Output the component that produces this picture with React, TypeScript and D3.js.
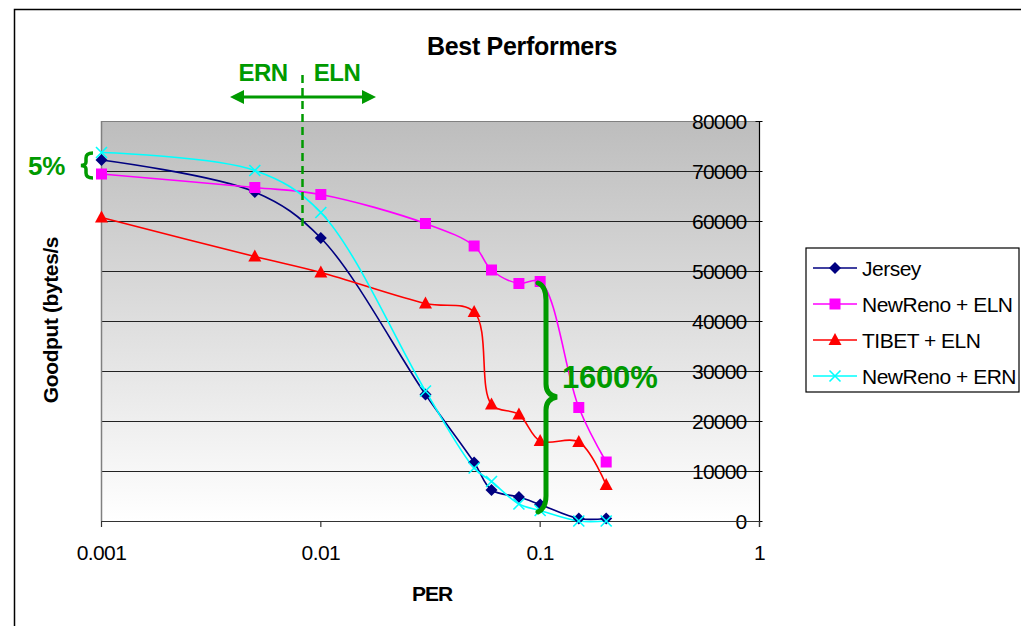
import React from "react";
import * as d3 from "d3";

const perValues = [0.001, 0.005, 0.01, 0.03, 0.05, 0.06, 0.08, 0.1, 0.15, 0.2];
const jersey = [72200, 65800, 56600, 25300, 11700, 6200, 4800, 3300, 500, 500];
const newRenoEln = [69400, 66700, 65300, 59500, 55000, 50200, 47500, 47900, 22700, 11800];
const tibetEln = [60700, 52900, 49700, 43500, 41800, 23300, 21300, 16000, 15800, 7200];
const newRenoErn = [73700, 70100, 61700, 26000, 10600, 7900, 3400, 2100, 0, 0];
const yTicks = [0, 10000, 20000, 30000, 40000, 50000, 60000, 70000, 80000];
const xTicks = [0.001, 0.01, 0.1, 1];
const xTickLabels = ["0.001", "0.01", "0.1", "1"];

const seriesNames = ["Jersey", "NewReno + ELN", "TIBET + ELN", "NewReno + ERN"];
const seriesColors = ["#000080", "#ff00ff", "#ff0000", "#00ffff"];
const seriesMarkers = ["diamond", "square", "triangle", "x"];
const seriesData = [jersey, newRenoEln, tibetEln, newRenoErn];

const GREEN = "#009a00";
const FONT = "'Liberation Sans', Arial, sans-serif";

function Marker({ kind, x, y, color }: { kind: string; x: number; y: number; color: string }) {
  if (kind === "diamond") {
    const s = 6;
    return <path d={`M${x},${y - s}L${x + s},${y}L${x},${y + s}L${x - s},${y}Z`} fill={color} />;
  }
  if (kind === "square") {
    const s = 5.5;
    return <rect x={x - s} y={y - s} width={2 * s} height={2 * s} fill={color} />;
  }
  if (kind === "triangle") {
    return <path d={`M${x},${y - 7}L${x + 6.5},${y + 5}L${x - 6.5},${y + 5}Z`} fill={color} />;
  }
  const s = 5.5;
  return (
    <path
      d={`M${x - s},${y - s}L${x + s},${y + s}M${x - s},${y + s}L${x + s},${y - s}`}
      stroke={color}
      strokeWidth={1.6}
      fill="none"
    />
  );
}

export default function App() {
  const x = d3.scaleLog().domain([0.001, 1]).range([101.5, 759.5]);
  const y = d3.scaleLinear().domain([0, 80000]).range([521, 121]);
  const line = d3
    .line<[number, number]>()
    .x((d) => x(d[0]))
    .y((d) => y(d[1]))
    .curve(d3.curveCatmullRom.alpha(0.5));

  const left = x.range()[0];
  const right = x.range()[1];
  const top = y(80000);
  const bottom = y(0);

  return (
    <svg
      width={1021}
      height={626}
      style={{ position: "absolute", left: 0, top: 0, background: "#fff" }}
      fontFamily={FONT}
    >
      <defs>
        <linearGradient id="bg" x1="0" y1="0" x2="0" y2="1">
          <stop offset="0" stopColor="#bdbdbd" />
          <stop offset="1" stopColor="#ffffff" />
        </linearGradient>
      </defs>
      {/* outer frame */}
      <path d="M14.5,626V9.5H1021" fill="none" stroke="#000" strokeWidth={1.5} />

      {/* plot background */}
      <rect x={left} y={top} width={right - left} height={bottom - top} fill="url(#bg)" />
      {/* gridlines */}
      {yTicks.map((t) => (
        <line key={t} x1={left} x2={right} y1={Math.round(y(t)) + 0.5} y2={Math.round(y(t)) + 0.5} stroke={t === 80000 ? "#808080" : "#222"} strokeWidth={1} />
      ))}
      <line x1={left} x2={left} y1={top} y2={bottom} stroke="#808080" strokeWidth={1.5} />

      {/* right y axis */}
      <line x1={right} x2={right} y1={top} y2={bottom + 6} stroke="#000" strokeWidth={1.2} />
      {yTicks.map((t) => (
        <line key={"yt" + t} x1={right - 4} x2={right + 3} y1={Math.round(y(t)) + 0.5} y2={Math.round(y(t)) + 0.5} stroke="#000" />
      ))}
      {yTicks.map((t) => (
        <text
          key={"yl" + t}
          x={right - 13}
          y={y(t)}
          dy="0.36em"
          textAnchor="end"
          fontSize={21}
          letterSpacing={-0.8}
          fill="#000"
        >
          {t}
        </text>
      ))}

      {/* bottom x axis */}
      <line x1={left} x2={right} y1={bottom + 0.5} y2={bottom + 0.5} stroke="#333" strokeWidth={1.2} />
      {xTicks.map((t, i) => (
        <g key={"xt" + t}>
          <line x1={x(t)} x2={x(t)} y1={bottom} y2={bottom + 6} stroke="#333" strokeWidth={1.2} />
          <text x={x(t)} y={560} textAnchor="middle" fontSize={21} letterSpacing={-0.6} fill="#000">
            {xTickLabels[i]}
          </text>
        </g>
      ))}

      {/* series lines */}
      {seriesData.map((vals, si) => (
        <path
          key={"s" + si}
          d={line(perValues.map((p, i) => [p, vals[i]] as [number, number])) || ""}
          fill="none"
          stroke={seriesColors[si]}
          strokeWidth={1.6}
        />
      ))}
      {seriesData.map((vals, si) => (
        <g key={"m" + si}>
          {perValues.map((p, i) => (
            <Marker key={i} kind={seriesMarkers[si]} x={x(p)} y={y(vals[i])} color={seriesColors[si]} />
          ))}
        </g>
      ))}

      {/* title and axis labels */}
      <text x={522} y={55} textAnchor="middle" fontSize={25} fontWeight="bold" letterSpacing={-0.3}>
        Best Performers
      </text>
      <text x={432} y={601} textAnchor="middle" fontSize={21} fontWeight="bold" letterSpacing={-1}>
        PER
      </text>
      <text
        transform={`translate(58,${y(40000) - 1})rotate(-90)`}
        textAnchor="middle"
        fontSize={21}
        fontWeight="bold"
        letterSpacing={-0.4}
      >
        Goodput (bytes/s
      </text>

      {/* ERN / ELN annotation */}
      <text x={263} y={81} textAnchor="middle" fontSize={24} fontWeight="bold" fill={GREEN} letterSpacing={-0.5}>
        ERN
      </text>
      <text x={337} y={81} textAnchor="middle" fontSize={24} fontWeight="bold" fill={GREEN} letterSpacing={-0.5}>
        ELN
      </text>
      <line x1={242} x2={364} y1={97} y2={97} stroke={GREEN} strokeWidth={3} />
      <path d="M230,97L244,90L244,104Z" fill={GREEN} />
      <path d="M376,97L362,90L362,104Z" fill={GREEN} />
      <line x1={302.5} x2={302.5} y1={75} y2={230} stroke={GREEN} strokeWidth={2.5} strokeDasharray="8,5" />

      {/* 5% annotation */}
      <text x={28} y={175} fontSize={26} fontWeight="bold" fill={GREEN} letterSpacing={-0.3}>
        5%
      </text>
      <path
        d="M93,153Q86,153 86,158L86,162Q86,165 81,165.5Q86,166 86,169L86,173Q86,178 93,178"
        fill="none"
        stroke={GREEN}
        strokeWidth={3.5}
      />

      {/* 1600% annotation */}
      <path
        d="M538,283Q546,286 546,300L546,384Q546,395 557,397Q546,399 546,410L546,496Q546,508 538,512"
        fill="none"
        stroke={GREEN}
        strokeWidth={5}
        strokeLinecap="round"
      />
      <text x={562} y={388} fontSize={31} fontWeight="bold" fill={GREEN} letterSpacing={-0.2}>
        1600%
      </text>

      {/* legend */}
      <rect x={806} y={248} width={213} height={144} fill="#fff" stroke="#000" strokeWidth={1.2} />
      {seriesNames.map((name, i) => {
        const ly = 268 + i * 36;
        return (
          <g key={"lg" + i}>
            <line x1={813} x2={857} y1={ly} y2={ly} stroke={seriesColors[i]} strokeWidth={1.6} />
            <Marker kind={seriesMarkers[i]} x={835} y={ly} color={seriesColors[i]} />
            <text x={862} y={ly} dy="0.36em" fontSize={21} letterSpacing={-0.5}>
              {name}
            </text>
          </g>
        );
      })}
    </svg>
  );
}
